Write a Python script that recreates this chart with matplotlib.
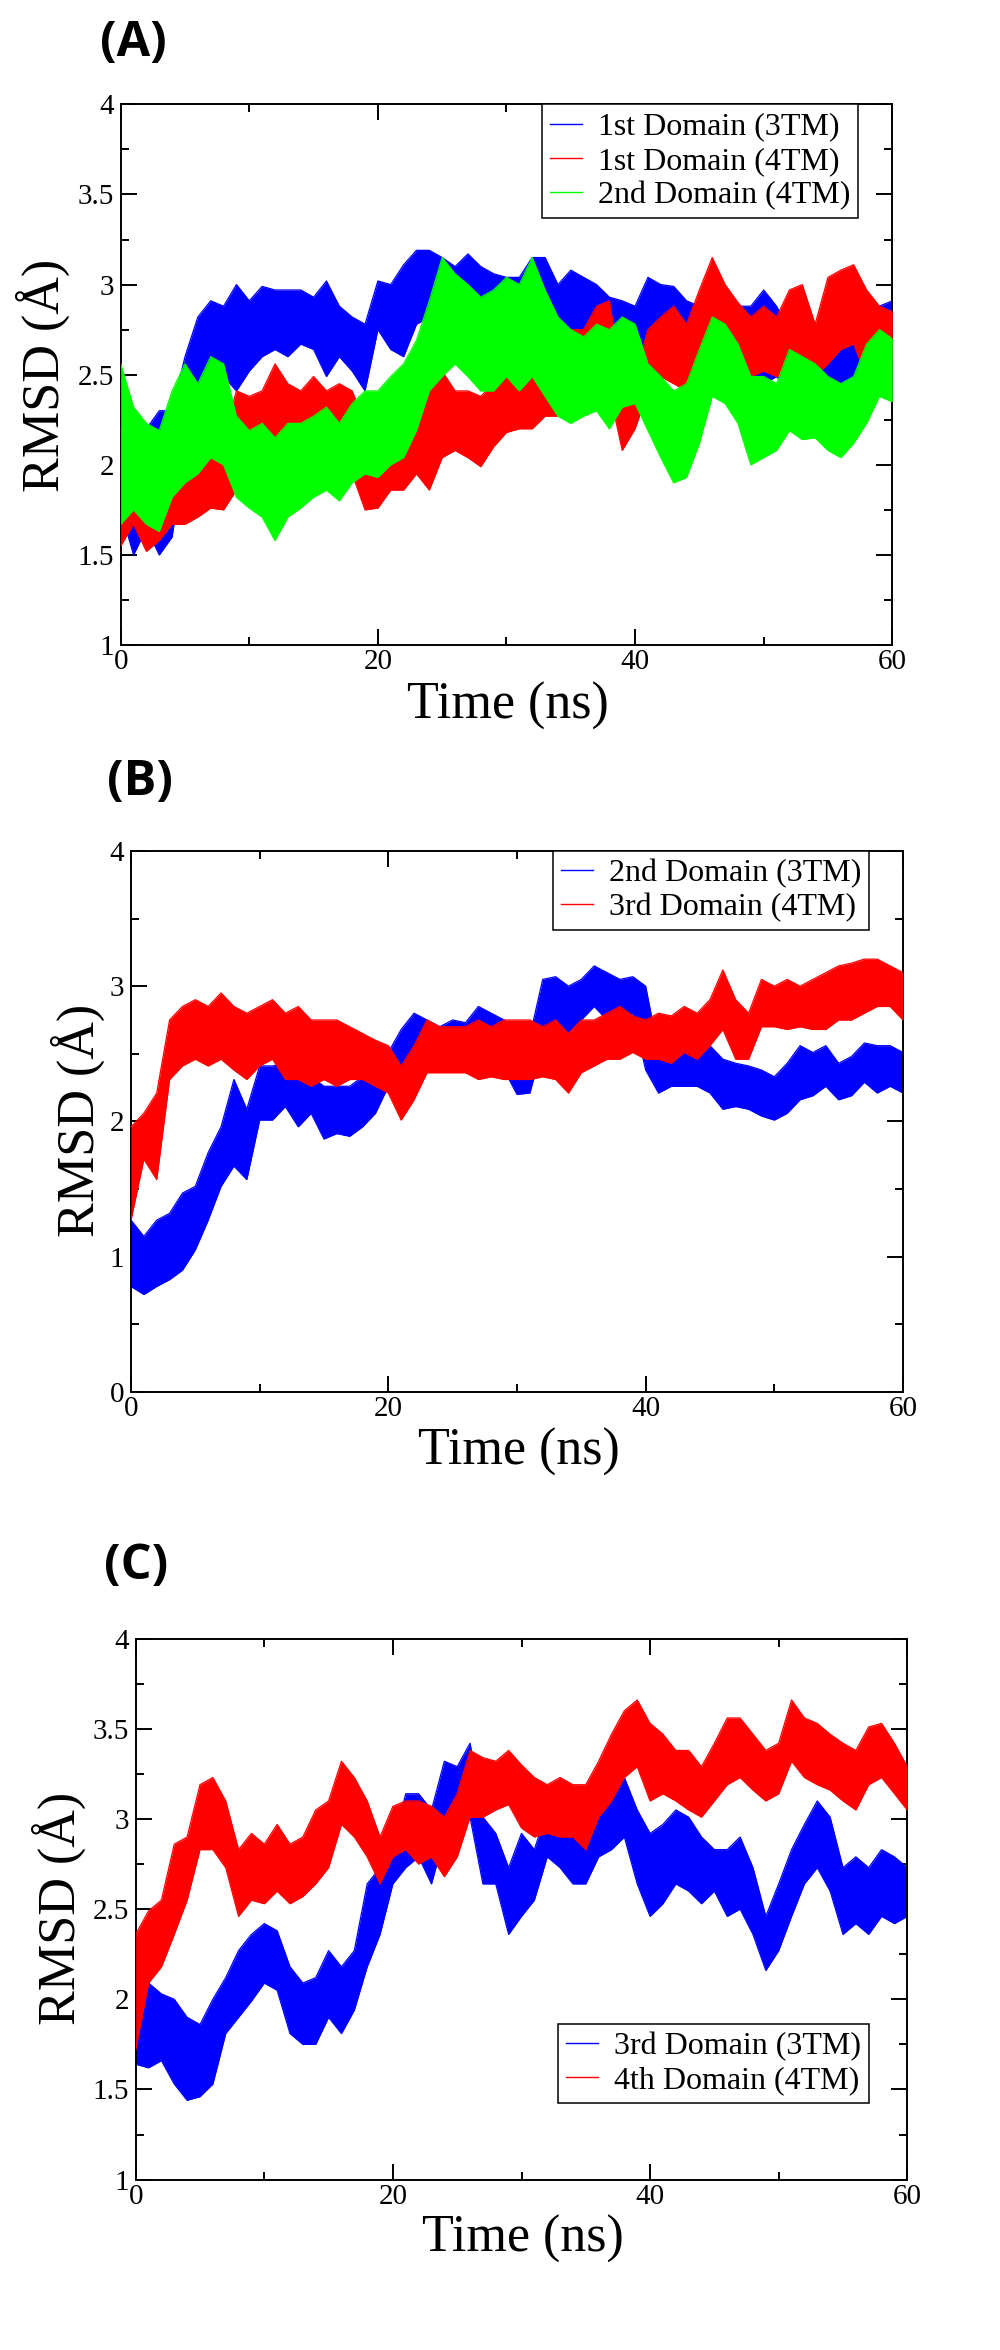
# plot.py - three stacked RMSD-vs-time panels (A, B, C), XMGrace look.

import matplotlib
matplotlib.use("Agg")
import matplotlib.pyplot as plt
from matplotlib.lines import Line2D
from matplotlib.ticker import FuncFormatter, MultipleLocator

# --- Data (band edges, one value per ns) ---

TIME_NS = list(range(0, 61))

# Panel A
A_D1_3TM_HI = [2.3, 2.1, 2.2, 2.3, 2.3, 2.6, 2.82, 2.91, 2.88, 3.0, 2.91,
               2.99, 2.97, 2.97, 2.97, 2.93, 3.02, 2.88, 2.82, 2.78, 3.02,
               3.0, 3.11, 3.19, 3.19, 3.15, 3.1, 3.17, 3.1, 3.06, 3.04,
               3.04, 3.15, 3.15, 3.0, 3.08, 3.04, 3.0, 2.93, 2.91, 2.88,
               3.04, 3.0, 2.99, 2.91, 2.88, 2.78, 2.82, 2.88, 2.88, 2.97,
               2.88, 2.75, 2.78, 2.75, 2.78, 2.82, 2.86, 2.82, 2.88, 2.91]
A_D1_3TM_LO = [1.75, 1.5, 1.65, 1.5, 1.6, 2.1, 2.38, 2.56, 2.49, 2.41, 2.52,
               2.6, 2.64, 2.6, 2.67, 2.64, 2.49, 2.6, 2.52, 2.41, 2.75,
               2.64, 2.6, 2.78, 2.82, 2.78, 2.73, 2.82, 2.78, 2.75, 2.78,
               2.71, 2.75, 2.78, 2.69, 2.73, 2.67, 2.64, 2.67, 2.69, 2.65,
               2.6, 2.56, 2.52, 2.56, 2.6, 2.49, 2.49, 2.52, 2.41, 2.45,
               2.49, 2.41, 2.49, 2.45, 2.49, 2.45, 2.49, 2.52, 2.49, 2.56]
A_D1_4TM_HI = [2.2, 2.08, 2.04, 1.99, 2.04, 2.04, 2.14, 2.19, 2.15, 2.41, 2.38,
               2.41, 2.56, 2.45, 2.41, 2.49, 2.41, 2.45, 2.41, 2.23, 2.04,
               2.08, 2.23, 2.38, 2.45, 2.52, 2.41, 2.41, 2.38, 2.45, 2.55,
               2.66, 2.73, 2.6, 2.69, 2.75, 2.75, 2.88, 2.91, 2.45, 2.49,
               2.75, 2.82, 2.88, 2.78, 2.97, 3.15, 3.0, 2.9, 2.82, 2.88,
               2.82, 2.97, 3.0, 2.78, 3.04, 3.08, 3.11, 2.97, 2.88, 2.85]
A_D1_4TM_LO = [1.55, 1.67, 1.52, 1.58, 1.67, 1.67, 1.71, 1.76, 1.75, 1.86, 1.95,
               1.9, 2.0, 2.04, 2.0, 2.04, 2.0, 2.04, 1.95, 1.75, 1.76,
               1.86, 1.86, 1.95, 1.86, 2.04, 2.08, 2.04, 1.99, 2.1, 2.18,
               2.2, 2.2, 2.27, 2.27, 2.32, 2.32, 2.41, 2.41, 2.08, 2.2,
               2.41, 2.49, 2.45, 2.41, 2.45, 2.69, 2.6, 2.49, 2.49, 2.52,
               2.49, 2.52, 2.6, 2.49, 2.56, 2.64, 2.67, 2.49, 2.56, 2.6]
A_D2_4TM_HI = [2.56, 2.32, 2.23, 2.19, 2.41, 2.56, 2.45, 2.6, 2.56, 2.27, 2.19,
               2.23, 2.15, 2.23, 2.23, 2.27, 2.32, 2.23, 2.34, 2.41, 2.41,
               2.49, 2.56, 2.69, 2.91, 3.15, 3.06, 3.0, 2.93, 2.97, 3.04,
               3.0, 3.15, 2.97, 2.82, 2.75, 2.71, 2.78, 2.75, 2.82, 2.78,
               2.56, 2.49, 2.41, 2.45, 2.64, 2.82, 2.78, 2.67, 2.49, 2.49,
               2.45, 2.64, 2.6, 2.56, 2.49, 2.45, 2.49, 2.67, 2.75, 2.7]
A_D2_4TM_LO = [1.67, 1.75, 1.67, 1.63, 1.82, 1.9, 1.95, 2.04, 2.0, 1.82, 1.76,
               1.71, 1.58, 1.71, 1.76, 1.82, 1.86, 1.8, 1.9, 1.95, 1.93,
               2.0, 2.04, 2.19, 2.41, 2.49, 2.56, 2.49, 2.41, 2.41, 2.49,
               2.41, 2.49, 2.38, 2.27, 2.23, 2.27, 2.3, 2.2, 2.32, 2.34,
               2.19, 2.04, 1.9, 1.93, 2.12, 2.38, 2.34, 2.23, 2.0, 2.04,
               2.08, 2.19, 2.14, 2.15, 2.08, 2.04, 2.12, 2.23, 2.38, 2.35]

# Panel B
B_D2_3TM_HI = [1.27, 1.15, 1.27, 1.32, 1.47, 1.52, 1.77, 1.96, 2.31, 2.09, 2.41,
               2.41, 2.43, 2.31, 2.33, 2.26, 2.26, 2.26, 2.33, 2.36, 2.51,
               2.68, 2.8, 2.75, 2.7, 2.75, 2.73, 2.85, 2.8, 2.75, 2.6,
               2.63, 3.05, 3.07, 3.0, 3.05, 3.15, 3.1, 3.05, 3.07, 3.0,
               2.51, 2.56, 2.51, 2.56, 2.56, 2.46, 2.43, 2.41, 2.38, 2.33,
               2.43, 2.56, 2.51, 2.56, 2.43, 2.48, 2.58, 2.56, 2.56, 2.51]
B_D2_3TM_LO = [0.78, 0.72, 0.78, 0.83, 0.9, 1.05, 1.27, 1.52, 1.67, 1.57, 2.01,
               2.01, 2.11, 1.96, 2.06, 1.87, 1.91, 1.89, 1.96, 2.06, 2.26,
               2.33, 2.51, 2.36, 2.38, 2.41, 2.36, 2.46, 2.38, 2.38, 2.2,
               2.21, 2.56, 2.68, 2.65, 2.75, 2.85, 2.75, 2.75, 2.8, 2.38,
               2.21, 2.26, 2.26, 2.26, 2.21, 2.09, 2.11, 2.09, 2.04, 2.01,
               2.06, 2.16, 2.19, 2.26, 2.16, 2.19, 2.29, 2.21, 2.26, 2.21]
B_D3_4TM_HI = [1.96, 2.06, 2.21, 2.75, 2.85, 2.9, 2.85, 2.95, 2.85, 2.8, 2.85,
               2.9, 2.8, 2.85, 2.75, 2.75, 2.75, 2.7, 2.65, 2.6, 2.56,
               2.41, 2.56, 2.75, 2.7, 2.7, 2.7, 2.75, 2.7, 2.75, 2.75,
               2.75, 2.7, 2.75, 2.65, 2.75, 2.75, 2.8, 2.85, 2.78, 2.75,
               2.8, 2.78, 2.85, 2.8, 2.9, 3.12, 2.9, 2.8, 3.05, 3.0,
               3.05, 3.0, 3.05, 3.1, 3.15, 3.17, 3.2, 3.2, 3.15, 3.1]
B_D3_4TM_LO = [1.27, 1.72, 1.57, 2.31, 2.41, 2.46, 2.41, 2.46, 2.38, 2.31, 2.41,
               2.46, 2.31, 2.31, 2.26, 2.31, 2.26, 2.31, 2.31, 2.26, 2.21,
               2.01, 2.16, 2.36, 2.36, 2.36, 2.36, 2.31, 2.33, 2.31, 2.31,
               2.31, 2.33, 2.31, 2.21, 2.36, 2.41, 2.46, 2.46, 2.51, 2.46,
               2.46, 2.43, 2.51, 2.46, 2.56, 2.68, 2.46, 2.46, 2.7, 2.7,
               2.68, 2.7, 2.68, 2.68, 2.75, 2.75, 2.8, 2.85, 2.85, 2.75]

# Panel C
C_D3_3TM_HI = [2.23, 2.09, 2.03, 2.0, 1.9, 1.86, 2.0, 2.12, 2.27, 2.36, 2.42,
               2.38, 2.18, 2.09, 2.12, 2.27, 2.18, 2.27, 2.64, 2.73, 2.86,
               3.14, 3.14, 3.05, 3.32, 3.29, 3.42, 3.01, 2.92, 2.73, 2.92,
               2.83, 3.05, 3.01, 3.01, 3.01, 3.1, 3.14, 3.23, 3.05, 2.92,
               2.97, 3.05, 3.01, 2.9, 2.83, 2.83, 2.9, 2.73, 2.46, 2.64,
               2.83, 2.97, 3.1, 3.01, 2.73, 2.79, 2.73, 2.83, 2.79, 2.73]
C_D3_3TM_LO = [1.64, 1.62, 1.66, 1.53, 1.44, 1.46, 1.53, 1.81, 1.9, 1.99, 2.09,
               2.05, 1.81, 1.75, 1.75, 1.9, 1.81, 1.94, 2.18, 2.36, 2.64,
               2.73, 2.79, 2.64, 2.9, 2.97, 3.01, 2.64, 2.64, 2.36, 2.46,
               2.55, 2.79, 2.73, 2.64, 2.64, 2.79, 2.83, 2.9, 2.64, 2.46,
               2.53, 2.64, 2.6, 2.53, 2.6, 2.46, 2.5, 2.36, 2.16, 2.27,
               2.46, 2.64, 2.73, 2.6, 2.36, 2.42, 2.36, 2.46, 2.42, 2.46]
C_D4_4TM_HI = [2.36, 2.49, 2.55, 2.86, 2.9, 3.19, 3.23, 3.1, 2.83, 2.92, 2.86,
               2.97, 2.86, 2.9, 3.05, 3.1, 3.32, 3.23, 3.1, 2.9, 3.07,
               3.1, 3.1, 3.07, 3.01, 3.14, 3.38, 3.34, 3.32, 3.38, 3.3,
               3.23, 3.19, 3.23, 3.19, 3.19, 3.32, 3.47, 3.6, 3.66, 3.53,
               3.47, 3.38, 3.38, 3.29, 3.42, 3.56, 3.56, 3.47, 3.38, 3.42,
               3.66, 3.56, 3.53, 3.47, 3.42, 3.38, 3.51, 3.53, 3.42, 3.29]
C_D4_4TM_LO = [1.72, 2.09, 2.18, 2.36, 2.55, 2.83, 2.83, 2.73, 2.46, 2.55, 2.53,
               2.6, 2.53, 2.57, 2.64, 2.73, 2.97, 2.9, 2.79, 2.64, 2.79,
               2.83, 2.75, 2.79, 2.68, 2.79, 3.01, 3.01, 3.05, 3.08, 2.95,
               2.9, 2.92, 2.9, 2.9, 2.83, 3.01, 3.1, 3.23, 3.29, 3.1,
               3.14, 3.1, 3.05, 3.01, 3.1, 3.19, 3.23, 3.16, 3.1, 3.14,
               3.32, 3.23, 3.19, 3.16, 3.1, 3.05, 3.19, 3.23, 3.14, 3.05]

BLUE, RED, GREEN = "#0000FF", "#FF0000", "#00FF00"

# (label, lo, hi, colour) in drawing order
PANELS = [
    {
        "tag": "(A)",
        "series": [
            ("1st Domain (3TM)", A_D1_3TM_LO, A_D1_3TM_HI, BLUE),
            ("1st Domain (4TM)", A_D1_4TM_LO, A_D1_4TM_HI, RED),
            ("2nd Domain (4TM)", A_D2_4TM_LO, A_D2_4TM_HI, GREEN),
        ],
        "ylim": (1, 4), "ymajor": 0.5, "yminor": 0.25,
        "rect": [0.1207, 0.7255, 0.7716, 0.2301],
        "legend": ("upper right", (0.9555, 1.0)),
        "tag_xy": (0.133, 0.9817), "ylab_xy": (0.043, 0.8404), "xlab_xy": (0.508, 0.6995),
    },
    {
        "tag": "(B)",
        "series": [
            ("2nd Domain (3TM)", B_D2_3TM_LO, B_D2_3TM_HI, BLUE),
            ("3rd Domain (4TM)", B_D3_4TM_LO, B_D3_4TM_HI, RED),
        ],
        "ylim": (0, 4), "ymajor": 1.0, "yminor": 0.5,
        "rect": [0.1310, 0.4077, 0.7720, 0.2302],
        "legend": ("upper right", (0.956, 1.0)),
        "tag_xy": (0.140, 0.6672), "ylab_xy": (0.078, 0.5234), "xlab_xy": (0.519, 0.3821),
    },
    {
        "tag": "(C)",
        "series": [
            ("3rd Domain (3TM)", C_D3_3TM_LO, C_D3_3TM_HI, BLUE),
            ("4th Domain (4TM)", C_D4_4TM_LO, C_D4_4TM_HI, RED),
        ],
        "ylim": (1, 4), "ymajor": 0.5, "yminor": 0.25,
        "rect": [0.1357, 0.0725, 0.7716, 0.2302],
        "legend": ("lower right", (0.9498, 0.1416)),
        "tag_xy": (0.136, 0.3336), "ylab_xy": (0.059, 0.1881), "xlab_xy": (0.523, 0.0472),
    },
]

SERIF = ["Liberation Serif", "DejaVu Serif"]
plt.rcParams["font.family"] = SERIF


def draw_panel(fig, spec):
    ax = fig.add_axes(spec["rect"])
    handles, labels = [], []
    # each series gets its own layer so later traces sit on top of earlier ones
    for k, (label, lo, hi, colour) in enumerate(spec["series"]):
        z = 2 + 2 * k
        ax.fill_between(TIME_NS, lo, hi, color=colour, linewidth=0, zorder=z)
        ax.plot(TIME_NS, hi, color=colour, linewidth=0.9, zorder=z + 0.5)
        ax.plot(TIME_NS, lo, color=colour, linewidth=0.9, zorder=z + 0.5)
        handles.append(Line2D([0, 1], [0, 0], color=colour, linewidth=1.0))
        labels.append(label)

    ax.set_xlim(0, 60)
    ax.set_ylim(*spec["ylim"])
    ax.xaxis.set_major_locator(MultipleLocator(20))
    ax.xaxis.set_minor_locator(MultipleLocator(10))
    ax.yaxis.set_major_locator(MultipleLocator(spec["ymajor"]))
    ax.yaxis.set_minor_locator(MultipleLocator(spec["yminor"]))
    fmt = FuncFormatter(lambda v, _p: f"{v:g}")
    ax.xaxis.set_major_formatter(fmt)
    ax.yaxis.set_major_formatter(fmt)

    ax.tick_params(which="both", direction="in", top=True, right=True,
                   width=1.4, colors="black", labelsize=21)
    ax.tick_params(which="major", length=11.5)
    ax.tick_params(which="minor", length=5.8)
    ax.tick_params(axis="x", pad=3)
    ax.tick_params(axis="y", pad=5)
    for sp in ax.spines.values():
        sp.set_linewidth(1.4)

    loc, anchor = spec["legend"]
    leg = ax.legend(handles, labels, loc=loc, bbox_to_anchor=anchor,
                    borderaxespad=0, prop={"family": SERIF, "size": 23},
                    frameon=True, fancybox=False, edgecolor="black",
                    framealpha=1, borderpad=0.25, labelspacing=0.15,
                    handlelength=1.0, handleheight=0.7, handletextpad=0.5)
    leg.get_frame().set_linewidth(1.1)

    fig.text(*spec["tag_xy"], spec["tag"], ha="center", va="center",
             fontsize=35, fontweight="bold", family=["Open Sans", "DejaVu Sans"])
    fig.text(*spec["ylab_xy"], "RMSD (Å)", ha="center", va="center",
             rotation=90, fontsize=37.5)
    fig.text(*spec["xlab_xy"], "Time (ns)", ha="center", va="center",
             fontsize=37.5)
    return ax


def main():
    fig = plt.figure(figsize=(10, 23.5), dpi=100)
    for spec in PANELS:
        draw_panel(fig, spec)
    fig.savefig("out.png", dpi=100, facecolor="white")
    plt.close(fig)


if __name__ == "__main__":
    main()
